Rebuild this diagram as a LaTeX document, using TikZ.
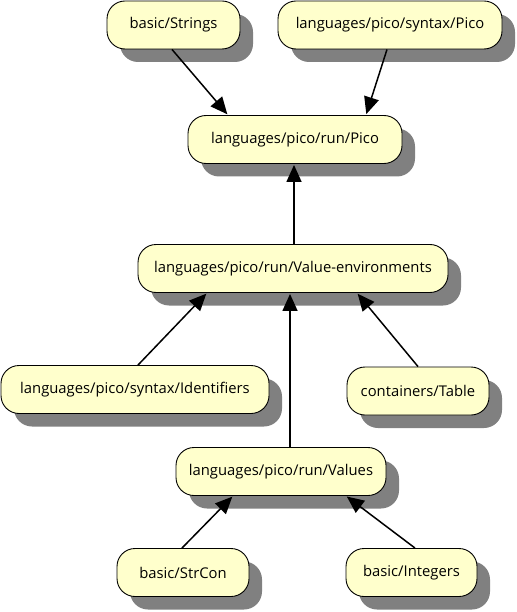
\documentclass[tikz,border=0pt]{standalone}
\usepackage{fontspec}
\setmainfont{Open Sans}
\usetikzlibrary{arrows.meta}
\definecolor{boxfill}{RGB}{255,255,204}
\definecolor{shadowgray}{RGB}{128,128,128}
\tikzset{
  modbox/.style={draw=black, line width=0.9pt, fill=boxfill, rounded corners=18pt,
    inner sep=0pt, minimum height=48pt, font=\fontsize{14.8}{17}\selectfont},
  dep/.style={line width=1.5pt, -{Triangle[length=17pt,width=15pt]}, shorten >=1pt}
}
\newcommand{\modnode}[5]{%
  % name, x, y, width, text
  \fill[shadowgray, rounded corners=18pt] (#2-#4/2+13,#3-24+13) rectangle (#2+#4/2+13,#3+24+13);
  \node[modbox, minimum width=#4 pt] (#1) at (#2,#3) {#5};
}
\begin{document}
\begin{tikzpicture}[x=1pt,y=-1pt]
\useasboundingbox (0,0) rectangle (516,612);
\modnode{strings}{173.5}{25}{133}{basic/Strings}
\modnode{synpico}{390}{25}{224}{languages/pico/syntax/Pico}
\modnode{runpico}{295}{139.5}{214}{languages/pico/run/Pico}
\modnode{valenv}{293}{268.5}{310}{languages/pico/run/Value-environments}
\modnode{ident}{135}{389.5}{268}{languages/pico/syntax/Identifiers}
\modnode{table}{418}{391}{142}{containers/Table}
\modnode{values}{281}{471.5}{210}{languages/pico/run/Values}
\modnode{strcon}{183}{572.5}{132}{basic/StrCon}
\modnode{integers}{411.5}{572.5}{131}{basic/Integers}
\draw[dep] (strings.south -| 172,0) -- (runpico.north -| 228,0);
\draw[dep] (synpico.south -| 387,0) -- (runpico.north -| 366,0);
\draw[dep] (valenv.north -| 294,0) -- (runpico.south -| 294,0);
\draw[dep] (ident.north -| 138,0) -- (valenv.south -| 207,0);
\draw[dep] (table.north -| 418,0) -- (valenv.south -| 357,0);
\draw[dep] (values.north -| 290,0) -- (valenv.south -| 290,0);
\draw[dep] (strcon.north -| 182,0) -- (values.south -| 233,0);
\draw[dep] (integers.north -| 415,0) -- (values.south -| 346,0);
\end{tikzpicture}
\end{document}
